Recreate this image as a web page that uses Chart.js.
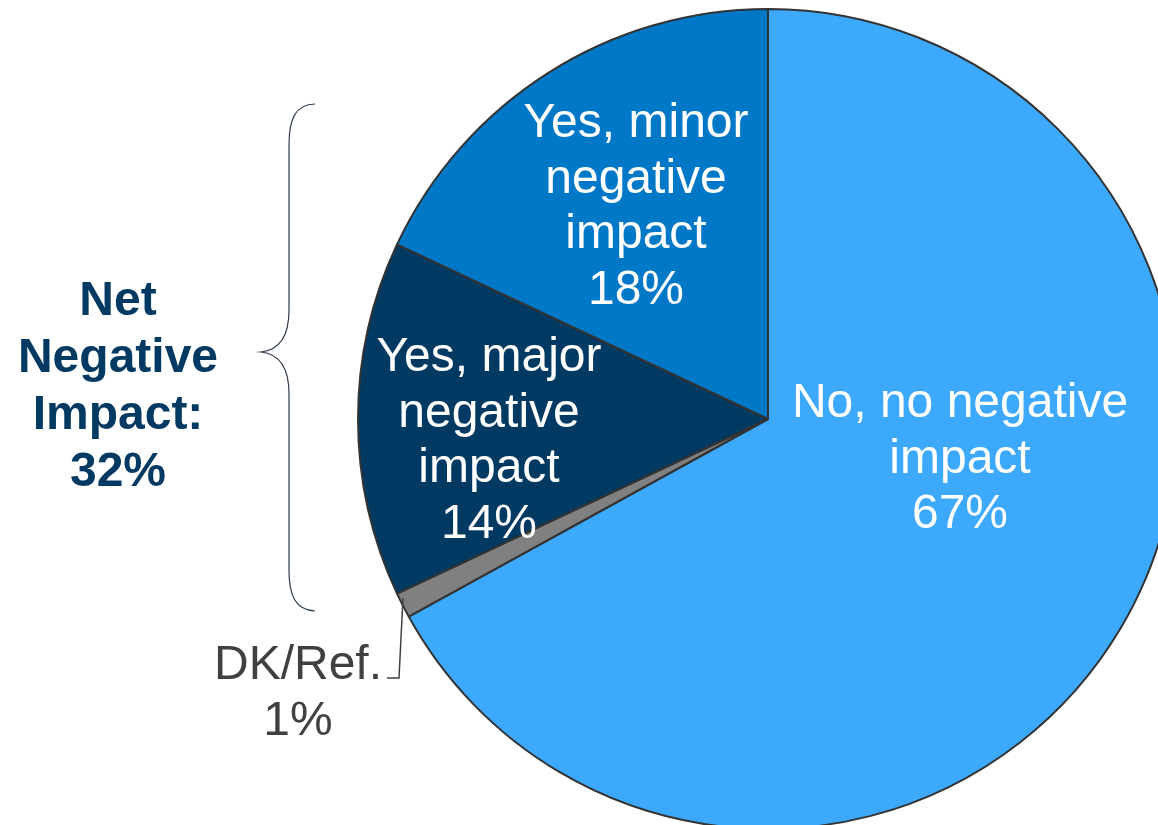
<!DOCTYPE html>
<html>
<head>
<meta charset="utf-8">
<script src="https://cdn.jsdelivr.net/npm/chart.js@4/dist/chart.umd.min.js"></script>
<style>
  html, body { margin: 0; padding: 0; background: #fff; overflow: hidden; width: 1158px; height: 825px; }
  #wrap { position: absolute; left: 0; top: 0; width: 1200px; height: 860px; }
</style>
</head>
<body>
<div id="wrap"><canvas id="c" width="1200" height="860"></canvas></div>
<script>
// ---- data ----
const categories = ["No, no negative impact", "DK/Ref.", "Yes, major negative impact", "Yes, minor negative impact"];
const values = [67, 1, 14, 18];
const labelLines = [
  ["No, no negative", "impact", "67%"],
  ["DK/Ref.", "1%"],
  ["Yes, major", "negative", "impact", "14%"],
  ["Yes, minor", "negative", "impact", "18%"]
];
const netLines = ["Net", "Negative", "Impact:", "32%"];

// ---- styles / layout ----
const colors = ["#3DA9FC", "#808080", "#003A62", "#0078C8"];
const labelColors = ["#ffffff", "#404040", "#ffffff", "#ffffff"];
// offsets of first baseline relative to pie centre (px)
const labelPos = [
  { dx: 192, dy: -2 },
  { dx: -470, dy: 260 },
  { dx: -279, dy: -48 },
  { dx: -132, dy: -282 }
];
const lineH = 55.5;

const decor = {
  id: 'decor',
  afterDatasetsDraw(chart) {
    const ctx = chart.ctx;
    const arc = chart.getDatasetMeta(0).data[0];
    const cx = arc.x, cy = arc.y;
    ctx.save();
    ctx.textAlign = 'center';
    ctx.textBaseline = 'alphabetic';
    ctx.font = '48px "Liberation Sans", Arial, sans-serif';
    labelLines.forEach((lines, i) => {
      ctx.fillStyle = labelColors[i];
      lines.forEach((t, j) => {
        ctx.fillText(t, cx + labelPos[i].dx, cy + labelPos[i].dy + j * lineH);
      });
    });
    // Net negative label
    ctx.font = 'bold 48px "Liberation Sans", Arial, sans-serif';
    ctx.fillStyle = '#003A62';
    netLines.forEach((t, j) => {
      ctx.fillText(t, 118, 315 + j * 57);
    });
    // brace
    ctx.strokeStyle = '#2E3B4A';
    ctx.lineWidth = 1.2;
    ctx.beginPath();
    ctx.moveTo(315, 104);
    ctx.bezierCurveTo(295, 104, 289, 120, 289, 145);
    ctx.lineTo(289, 310);
    ctx.bezierCurveTo(289, 335, 280, 350, 261, 352);
    ctx.bezierCurveTo(280, 354, 289, 369, 289, 394);
    ctx.lineTo(289, 570);
    ctx.bezierCurveTo(289, 595, 295, 610, 315, 611);
    ctx.stroke();
    // leader line for DK/Ref.
    ctx.strokeStyle = '#404040';
    ctx.lineWidth = 1.5;
    ctx.beginPath();
    ctx.moveTo(403, 598);
    ctx.lineTo(399, 678);
    ctx.lineTo(387, 678);
    ctx.stroke();
    ctx.restore();
  }
};

new Chart(document.getElementById('c'), {
  type: 'pie',
  data: {
    labels: categories,
    datasets: [{
      data: values,
      backgroundColor: colors,
      borderColor: '#333333',
      borderWidth: 2
    }]
  },
  options: {
    responsive: false,
    animation: false,
    layout: { padding: { left: 357, top: 8, right: 21, bottom: 30 } },
    plugins: { legend: { display: false }, tooltip: { enabled: false } }
  },
  plugins: [decor]
});
</script>
</body>
</html>
